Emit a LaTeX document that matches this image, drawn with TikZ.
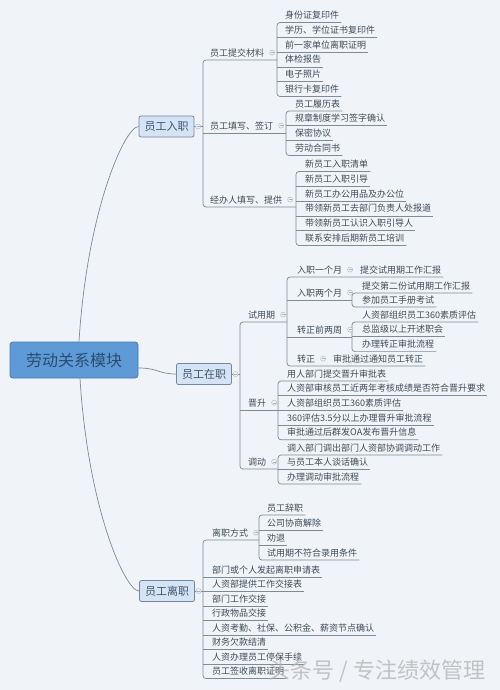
\documentclass[tikz,border=0pt]{standalone}
\usepackage{fontspec}
\setmainfont{Noto Sans CJK SC}
\usetikzlibrary{positioning}

\definecolor{bgcol}{HTML}{F0F3F7}
\definecolor{linkcol}{HTML}{7E8B98}
\definecolor{itemtext}{HTML}{3F4D5C}
\definecolor{rootfill}{HTML}{5E9BD6}
\definecolor{rootline}{HTML}{4677B0}
\definecolor{roottext}{HTML}{2B4B73}
\definecolor{mainfill}{HTML}{D5E3F4}
\definecolor{mainline}{HTML}{6E89A8}
\definecolor{maintext}{HTML}{3D5573}
\definecolor{foldcol}{HTML}{A9B4C0}

\begin{document}
\begin{tikzpicture}[
    x=1pt, y=-1pt,
    root/.style={rectangle, rounded corners=3pt, draw=rootline, line width=0.8pt, fill=rootfill, text=roottext, minimum width=128pt, minimum height=36pt, font=\fontsize{16}{18}\selectfont},
    main/.style={rectangle, rounded corners=2pt, draw=mainline, line width=0.8pt, fill=mainfill, text=maintext, minimum width=55pt, minimum height=21pt, inner sep=1pt, font=\fontsize{11}{13}\selectfont},
    item/.style={anchor=south west, inner xsep=2pt, inner ysep=3pt, text=itemtext, font=\fontsize{9}{11}\selectfont},
    link/.style={draw=linkcol, line width=0.7pt},
    bracket/.style={link, rounded corners=3pt},
    fold/.style={circle, draw=foldcol, fill=bgcol, line width=0.4pt, minimum size=5pt, inner sep=0pt,
      path picture={\draw[foldcol, line width=0.4pt] ([xshift=-1.5pt]path picture bounding box.center) -- ([xshift=1.5pt]path picture bounding box.center);}},
    wmark/.style={text=gray!60, opacity=0.75, font=\fontsize{22}{24}\selectfont}
]

\fill[bgcol] (0,0) rectangle (500,690);
\useasboundingbox (0,0) rectangle (500,690);

% Root and main topics
\node[root] (root) at (74,360) {劳动关系模块};
\node[main] (entry) at (166.5,126.5) {员工入职};
\node[main] (onjob) at (204,374) {员工在职};
\node[main] (quit) at (167,591) {员工离职};

\draw[link] ([xshift=5pt]root.north) .. controls +(8,-130) and +(-14,0) .. (entry.west);
\draw[link] ([yshift=-8pt]root.east) .. controls +(20,0) and +(-18,0) .. (onjob.west);
\draw[link] ([xshift=6pt]root.south) .. controls +(8,130) and +(-14,0) .. (quit.west);

% Bracket positions
\coordinate (eb) at (203,0);
\coordinate (matb) at (277,0);
\coordinate (signb) at (286,0);
\coordinate (fillb) at (296,0);
\coordinate (jb) at (240,0);
\coordinate (trialb) at (287,0);
\coordinate (twob) at (352,0);
\coordinate (promob) at (278,0);
\coordinate (lb) at (203,0);
\coordinate (wayb) at (259,0);

% Entry section
\node[item] (emat) at (208,60) {员工提交材料};
\node[item] (esign) at (208,133) {员工填写、签订};
\node[item] (efill) at (208,207) {经办人填写、提供};
\draw[link] (entry.east) -- (entry.east -| eb);
\draw[bracket] (emat.south -| matb) -- (emat.south -| eb) -- (efill.south -| eb) -- (efill.south -| fillb);
\draw[link] (esign.south -| eb) -- (esign.south -| signb);

\foreach \txt [count=\i] in {身份证复印件, 学历、学位证书复印件, 前一家单位离职证明, 体检报告, 电子照片, 银行卡复印件}
  \node[item] (mat\i) at (283, {22.5+14.8*(\i-1)}) {\txt};
\draw[bracket] (mat1.south east) -- (mat1.south -| matb) -- (mat6.south -| matb) -- (mat6.south east);
\foreach \i in {2,...,5} \draw[link] (mat\i.south -| matb) -- (mat\i.south east);

\foreach \txt [count=\i] in {员工履历表, 规章制度学习签字确认, 保密协议, 劳动合同书}
  \node[item] (sg\i) at (293, {111+14.8*(\i-1)}) {\txt};
\draw[bracket] (sg1.south east) -- (sg1.south -| signb) -- (sg4.south -| signb) -- (sg4.south east);
\foreach \i in {2,3} \draw[link] (sg\i.south -| signb) -- (sg\i.south east);

\foreach \txt [count=\i] in {新员工入职清单, 新员工入职引导, 新员工办公用品及办公位, 带领新员工去部门负责人处报道, 带领新员工认识入职引导人, 联系安排后期新员工培训}
  \node[item] (fl\i) at (303, {171.5+14.8*(\i-1)}) {\txt};
\draw[bracket] (fl1.south east) -- (fl1.south -| fillb) -- (fl6.south -| fillb) -- (fl6.south east);
\foreach \i in {2,...,5} \draw[link] (fl\i.south -| fillb) -- (fl\i.south east);

% On-the-job section
\node[item] (trial) at (246,322) {试用期};
\node[item] (promo) at (246,410) {晋升};
\node[item] (move) at (246,469) {调动};
\draw[link] (onjob.east) -- (onjob.east -| jb);
\draw[bracket] (trial.south -| trialb) -- (trial.south -| jb) -- (move.south -| jb) -- (move.south -| promob);
\draw[link] (promo.south -| jb) -- (promo.south -| promob);

% Probation
\node[item] (m1) at (295,277) {入职一个月};
\node[item] (m2) at (295,300) {入职两个月};
\node[item] (m3) at (295,337) {转正前两周};
\node[item] (m4) at (295,366) {转正};
\node[item] (m1c) at (358,277) {提交试用期工作汇报};
\node[item] (m4c) at (331,366) {审批通过通知员工转正};
\draw[bracket] (m1c.south east) -- (m1.south -| trialb) -- (m4.south -| trialb) -- (m4c.south east);
\draw[link] (m2.south -| trialb) -- (m2.south -| twob);
\draw[link] (m3.south -| trialb) -- (m3.south -| twob);

\node[item] (m2a) at (360,293) {提交第二份试用期工作汇报};
\node[item] (m2b) at (360,307) {参加员工手册考试};
\draw[bracket] (m2a.south east) -- (m2a.south -| twob) -- (m2b.south -| twob) -- (m2b.south east);

\foreach \txt [count=\i] in {人资部组织员工360素质评估, 总监级以上开述职会, 办理转正审批流程}
  \node[item] (wk\i) at (360, {322+14.8*(\i-1)}) {\txt};
\draw[bracket] (wk1.south east) -- (wk1.south -| twob) -- (wk3.south -| twob) -- (wk3.south east);
\draw[link] (wk2.south -| twob) -- (wk2.south east);

% Promotion
\foreach \txt [count=\i] in {用人部门提交晋升审批表, 人资部审核员工近两年考核成绩是否符合晋升要求, 人资部组织员工360素质评估, 360评估3.5分以上办理晋升审批流程, 审批通过后群发OA发布晋升信息}
  \node[item] (pr\i) at (285, {381+14.7*(\i-1)}) {\txt};
\draw[bracket] (pr1.south east) -- (pr1.south -| promob) -- (pr5.south -| promob) -- (pr5.south east);
\foreach \i in {2,...,4} \draw[link] (pr\i.south -| promob) -- (pr\i.south east);

% Transfer
\foreach \txt [count=\i] in {调入部门调出部门人资部协调调动工作, 与员工本人谈话确认, 办理调动审批流程}
  \node[item] (mv\i) at (285, {455+14.5*(\i-1)}) {\txt};
\draw[bracket] (mv1.south east) -- (mv1.south -| promob) -- (mv3.south -| promob) -- (mv3.south east);
\draw[link] (mv2.south -| promob) -- (mv2.south east);

% Leaving section
\node[item] (way) at (210,540) {离职方式};
\foreach \txt [count=\i] in {部门或个人发起离职申请表, 人资部提供工作交接表, 部门工作交接, 行政物品交接, 人资考勤、社保、公积金、薪资节点确认, 财务欠款结清, 人资办理员工停保手续, 员工签收离职证明}
  \node[item] (st\i) at (210, {577+14.5*(\i-1)}) {\txt};
\draw[link] (quit.east) -- (quit.east -| lb);
\draw[bracket] (way.south -| wayb) -- (way.south -| lb) -- (st8.south -| lb) -- (st8.south east);
\foreach \i in {1,...,7} \draw[link] (st\i.south -| lb) -- (st\i.south east);

\foreach \txt [count=\i] in {员工辞职, 公司协商解除, 劝退, 试用期不符合录用条件}
  \node[item] (wy\i) at (265, {515+15*(\i-1)}) {\txt};
\draw[bracket] (wy1.south east) -- (wy1.south -| wayb) -- (wy4.south -| wayb) -- (wy4.south east);
\foreach \i in {2,3} \draw[link] (wy\i.south -| wayb) -- (wy\i.south east);

% Fold markers
\foreach \n in {entry, onjob, quit}
  \node[fold, right=1pt of \n] (\n-f) {};
\foreach \n in {emat, esign, efill, trial, promo, move, m1, m2, m3, m4, way}
  \node[fold, right=3pt of \n] (\n-f) {};

% Watermark
\node[wmark] (wm) at (377,671) {头条号 / 专注绩效管理};

\end{tikzpicture}
\end{document}
